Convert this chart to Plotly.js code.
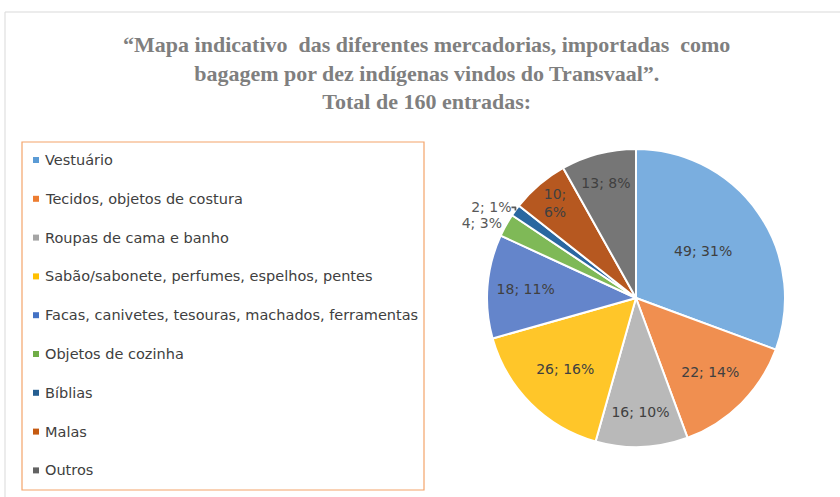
<!DOCTYPE html>
<html>
<head>
<meta charset="utf-8">
<script src="https://cdn.plot.ly/plotly-3.0.1.min.js"></script>
<style>html,body{margin:0;padding:0;background:#fff;}#chart{width:840px;height:497px;}</style>
</head>
<body>
<div id="chart"></div>
<script>
var labels = [
  "Vestuário",
  "Tecidos, objetos de costura",
  "Roupas de cama e banho",
  "Sabão/sabonete, perfumes, espelhos, pentes",
  "Facas, canivetes, tesouras, machados, ferramentas",
  "Objetos de cozinha",
  "Bíblias",
  "Malas",
  "Outros"
];
var values = [49, 22, 16, 26, 18, 4, 2, 10, 13];
var colors = ["#7aaedf", "#f08f50", "#b9b9b9", "#ffc629", "#6485cb", "#7fb957", "#2a67a0", "#b65820", "#767676"];
var legendColors = ["#5b9bd5", "#ed7d31", "#a5a5a5", "#ffc000", "#4472c4", "#70ad47", "#255e91", "#c55a11", "#636363"];
var textPos = ["inside", "inside", "inside", "inside", "inside", "outside", "outside", "inside", "inside"];
var templates = labels.map(function (l, i) {
  return i === 7 ? "%{value};<br>%{percent:.0%}" : "%{value}; %{percent:.0%}";
});

var W = 840, H = 497;
function px(x) { return x / W; }
function py(y) { return 1 - y / H; }
var FONT = "DejaVu Sans, sans-serif";

var trace = {
  type: "pie",
  labels: labels,
  values: values,
  sort: false,
  direction: "clockwise",
  rotation: 0,
  marker: { colors: colors, line: { color: "#ffffff", width: 2 } },
  texttemplate: templates,
  textposition: textPos,
  insidetextorientation: "horizontal",
  textfont: { family: FONT, size: 14, color: "#404040" },
  outsidetextfont: { family: FONT, size: 14, color: "#595959" },
  domain: { x: [px(487), px(785)], y: [py(447), py(149)] },
  showlegend: false,
  hoverinfo: "label+value+percent"
};

var shapes = [
  { type: "rect", xref: "paper", yref: "paper", x0: px(5), x1: px(860), y0: py(520), y1: py(12),
    line: { color: "#d9d9d9", width: 1 }, fillcolor: "rgba(0,0,0,0)", layer: "below" },
  { type: "rect", xref: "paper", yref: "paper", x0: px(22), x1: px(424), y0: py(490), y1: py(142),
    line: { color: "#f4a46a", width: 1.2 }, fillcolor: "rgba(0,0,0,0)" }
];
var annotations = [];
labels.forEach(function (l, i) {
  var yc = 160 + i * 38.8;
  shapes.push({ type: "rect", xref: "paper", yref: "paper", x0: px(33), x1: px(39), y0: py(yc + 3), y1: py(yc - 3),
    line: { width: 0 }, fillcolor: legendColors[i] });
  annotations.push({ xref: "paper", yref: "paper", x: px(43), y: py(yc), xanchor: "left", yanchor: "middle",
    text: l, showarrow: false, font: { family: FONT, size: 14.5, color: "#404040" } });
});

var layout = {
  width: 840, height: 497,
  margin: { l: 0, r: 0, t: 0, b: 0 },
  paper_bgcolor: "#ffffff",
  title: {
    text: "“Mapa indicativo  das diferentes mercadorias, importadas  como<br>bagagem por dez indígenas vindos do Transvaal”.<br>Total de 160 entradas:",
    font: { family: "Liberation Serif, Times New Roman, serif", size: 22, color: "#7f7f7f", weight: "bold" },
    x: 0.508, xanchor: "center", xref: "paper",
    y: 1 - 52 / 497, yanchor: "top", yref: "container"
  },
  shapes: shapes,
  annotations: annotations
};

Plotly.newPlot("chart", [trace], layout, { displayModeBar: false, staticPlot: true });
</script>
</body>
</html>
